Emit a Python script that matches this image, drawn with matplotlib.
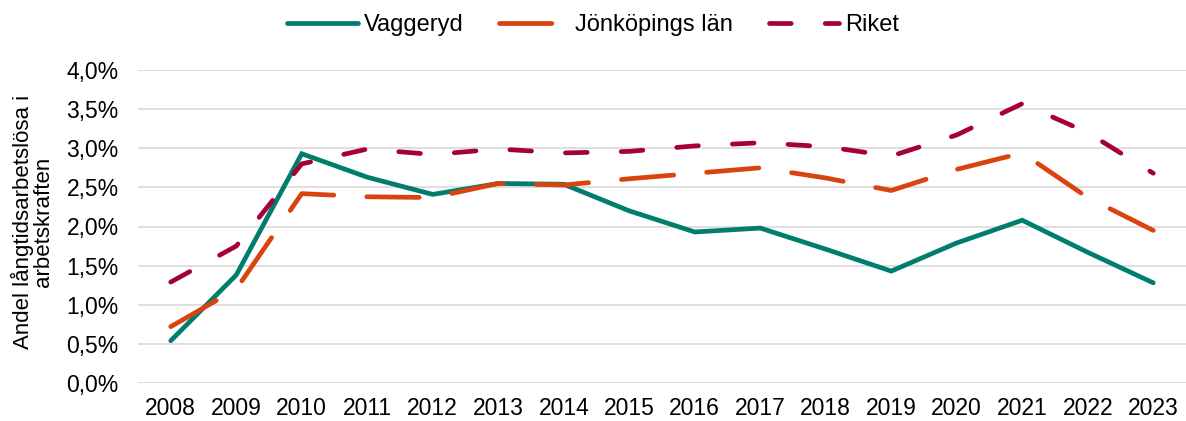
import matplotlib
matplotlib.use("Agg")
import matplotlib.pyplot as plt
from matplotlib.ticker import FuncFormatter

years = [str(y) for y in range(2008, 2024)]
vaggeryd = [0.54, 1.38, 2.93, 2.63, 2.41, 2.55, 2.54, 2.20, 1.93, 1.98, 1.71, 1.43, 1.79, 2.08, 1.67, 1.28]
jonkoping = [0.72, 1.20, 2.42, 2.38, 2.37, 2.55, 2.53, 2.61, 2.68, 2.75, 2.62, 2.46, 2.73, 2.94, 2.37, 1.95]
riket = [1.29, 1.75, 2.80, 2.99, 2.92, 2.99, 2.94, 2.96, 3.03, 3.07, 3.02, 2.90, 3.17, 3.57, 3.20, 2.68]
series_names = ["Vaggeryd", "Jönköpings län", "Riket"]

plt.rcParams['font.family'] = ['Liberation Sans', 'DejaVu Sans']
FS = 16.5
LFS = 17

fig = plt.figure(figsize=(11.86, 4.21), dpi=100)
ax = fig.add_axes([138/1186, (421-383)/421, 1 - 138/1186, (383-70)/421])

x = list(range(len(years)))
lw = 3.4
ax.plot(x, vaggeryd, color="#007D6C", lw=lw, solid_capstyle="round", solid_joinstyle="miter", label=series_names[0], zorder=3)
ax.plot(x, jonkoping, color="#D9430F", lw=lw, dashes=(11.1, 7.0), dash_capstyle="round", label=series_names[1], zorder=3)
ax.plot(x, riket, color="#A60038", lw=lw, dashes=(4.6, 7.2), dash_capstyle="round", label=series_names[2], zorder=3)

ax.set_xlim(-0.5, len(years) - 0.5)
ax.set_ylim(0, 4.0)
ax.set_yticks([0, 0.5, 1.0, 1.5, 2.0, 2.5, 3.0, 3.5, 4.0])
ax.yaxis.set_major_formatter(FuncFormatter(lambda v, p: f"{v:.1f}%".replace(".", ",")))
ax.set_xticks(x)
ax.set_xticklabels(years)
ax.tick_params(axis="both", length=0, labelsize=FS, colors="#000000")
ax.tick_params(axis="y", pad=14)
ax.tick_params(axis="x", pad=10)
ax.grid(axis="y", color="#D9D9D9", lw=1.2)
ax.set_axisbelow(True)
for s in ax.spines.values():
    s.set_visible(False)

ax.set_ylabel("Andel långtidsarbetslösa i\narbetskraften", fontsize=16, linespacing=0.95)
ax.yaxis.set_label_coords(-0.080, 0.514)

leg = fig.legend(loc="center", bbox_to_anchor=(0.5, 1 - 25/421), ncol=3, frameon=False,
                 fontsize=LFS, handlelength=3.0, handletextpad=0.25, columnspacing=1.5)

fig.savefig("out.png", dpi=100)
